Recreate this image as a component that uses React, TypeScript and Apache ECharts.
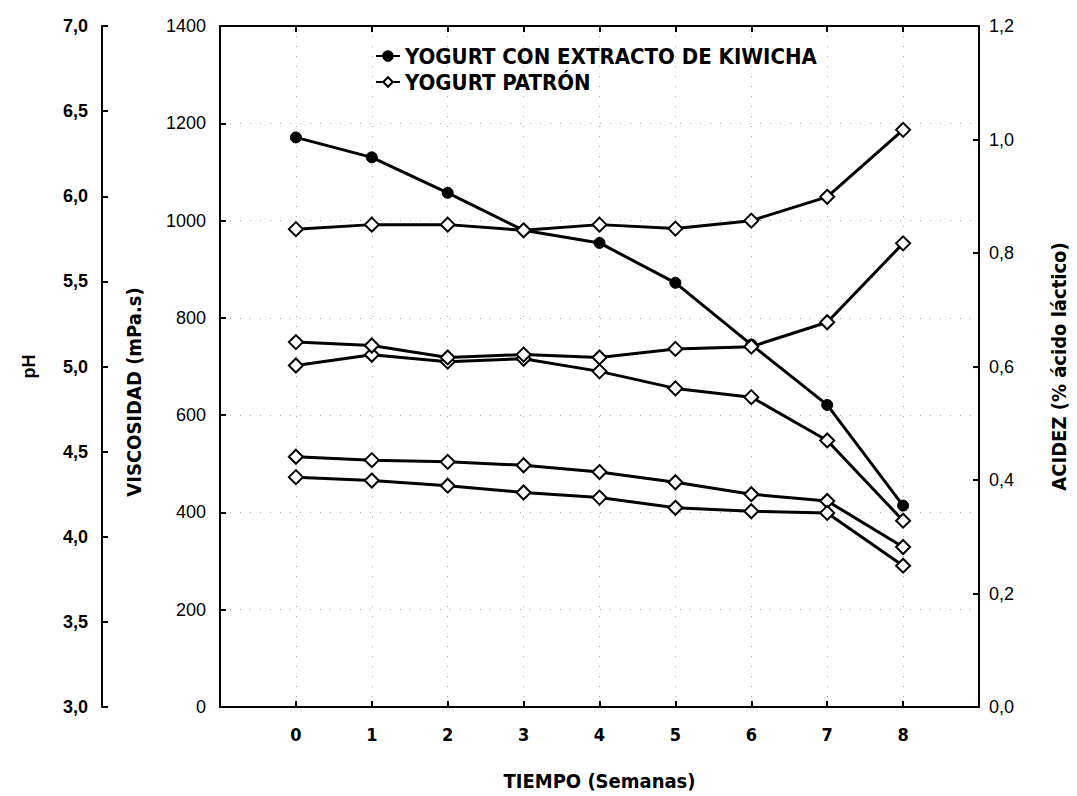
import React, { useEffect, useRef } from "react";
import * as echarts from "echarts";

const weeks = [0, 1, 2, 3, 4, 5, 6, 7, 8];
const xTickLabels = ["0", "1", "2", "3", "4", "5", "6", "7", "8"];
const viscKiwicha = [1171, 1130, 1057, 980, 954, 872, 745, 621, 414];
const viscPatron = [702, 724, 710, 716, 690, 655, 637, 548, 383];
const phKiwicha = [4.47, 4.45, 4.44, 4.42, 4.38, 4.32, 4.25, 4.21, 3.94];
const phPatron = [4.35, 4.33, 4.3, 4.26, 4.23, 4.17, 4.15, 4.14, 3.83];
const acidPatron = [0.842, 0.85, 0.85, 0.84, 0.85, 0.843, 0.857, 0.899, 1.017];
const acidKiwicha = [0.643, 0.637, 0.616, 0.621, 0.616, 0.631, 0.635, 0.678, 0.817];

const KIWICHA = "YOGURT CON EXTRACTO DE KIWICHA";
const PATRON = "YOGURT PATRÓN";

const FONT = "'Liberation Sans', Arial, sans-serif";
const NARROW = "'Liberation Sans Narrow', 'DejaVu Sans Condensed', 'Liberation Sans', sans-serif";

const pairs = (arr: number[]) => weeks.map((w, i) => [w, arr[i]]);

const filledStyle = {
  symbol: "circle",
  symbolSize: 11,
  itemStyle: { color: "#000", borderColor: "#000", borderWidth: 1 },
};
const openStyle = {
  symbol: "diamond",
  symbolSize: 14,
  itemStyle: { color: "#fff", borderColor: "#000", borderWidth: 2 },
};

export default function App() {
  const ref = useRef<HTMLDivElement>(null);
  useEffect(() => {
    document.body.style.margin = "0";
    const chart = echarts.init(ref.current!, null, { renderer: "svg" });
    const comma = (d: number) => (v: number) => v.toFixed(d).replace(".", ",");
    const lineSeries = (name: string, data: number[], yIdx: number, style: any) => ({
      type: "line",
      name,
      yAxisIndex: yIdx,
      data: pairs(data),
      lineStyle: { color: "#000", width: 3 },
      showAllSymbol: true,
      ...style,
    });
    const dotted = { show: true, lineStyle: { color: "#aaa", type: [1, 9], width: 1 } };
    const axisLine = { show: true, onZero: false, lineStyle: { color: "#000", width: 2 } };
    const tick = { show: true, inside: true, length: 6, lineStyle: { color: "#000", width: 2 } };
    chart.setOption({
      animation: false,
      backgroundColor: "#fff",
      grid: { left: 220, right: 85, top: 26, bottom: 80 },
      legend: {
        data: [KIWICHA, PATRON],
        orient: "vertical",
        left: 370,
        top: 40,
        itemGap: 4,
        itemWidth: 24,
        itemHeight: 12,
        textStyle: { fontFamily: NARROW, fontWeight: "bold", fontSize: 22, color: "#000" },
      },
      graphic: [
        {
          type: "text",
          x: 134,
          y: 392,
          rotation: Math.PI / 2,
          style: {
            text: "VISCOSIDAD (mPa.s)",
            fontFamily: NARROW,
            fontWeight: "bold",
            fontSize: 20,
            fill: "#000",
            align: "center",
            verticalAlign: "middle",
          },
        },
      ],
      xAxis: [
        {
          type: "value",
          min: -1,
          max: 9,
          interval: 1,
          name: "TIEMPO (Semanas)",
          nameLocation: "middle",
          nameGap: 64,
          nameTextStyle: { fontFamily: NARROW, fontWeight: "bold", fontSize: 20, color: "#000" },
          axisLine,
          axisTick: tick,
          axisLabel: {
            margin: 18,
            fontFamily: NARROW,
            fontWeight: "bold",
            fontSize: 18,
            color: "#000",
            formatter: (v: number) => (v >= 0 && v <= 8 ? xTickLabels[v] : ""),
          },
          splitLine: dotted,
        },
        {
          type: "value",
          position: "top",
          min: -1,
          max: 9,
          interval: 1,
          axisLine,
          axisTick: tick,
          axisLabel: { show: false },
          splitLine: { show: false },
        },
      ],
      yAxis: [
        {
          type: "value",
          position: "left",
          min: 0,
          max: 1400,
          interval: 200,
          axisLine,
          axisTick: tick,
          axisLabel: { margin: 14, fontFamily: FONT, fontSize: 18, color: "#000", formatter: (v: number) => String(v) },
          splitLine: dotted,
        },
        {
          type: "value",
          position: "left",
          offset: 118,
          min: 3,
          max: 7,
          interval: 0.5,
          name: "pH",
          nameLocation: "middle",
          nameGap: 64,
          nameRotate: 90,
          nameTextStyle: { fontFamily: FONT, fontWeight: "bold", fontSize: 18, color: "#000" },
          axisLine,
          axisTick: tick,
          axisLabel: { margin: 14, fontFamily: FONT, fontWeight: "bold", fontSize: 18, color: "#000", formatter: comma(1) },
          splitLine: { show: false },
        },
        {
          type: "value",
          position: "right",
          min: 0,
          max: 1.2,
          interval: 0.2,
          name: "ACIDEZ (% ácido láctico)",
          nameLocation: "middle",
          nameGap: 70,
          nameRotate: 90,
          nameTextStyle: { fontFamily: NARROW, fontWeight: "bold", fontSize: 20, color: "#000" },
          axisLine,
          axisTick: tick,
          axisLabel: { margin: 10, fontFamily: FONT, fontSize: 18, color: "#000", formatter: comma(1) },
          splitLine: { show: false },
        },
      ],
      series: [
        lineSeries(KIWICHA, viscKiwicha, 0, filledStyle),
        lineSeries(PATRON, viscPatron, 0, openStyle),
        lineSeries(KIWICHA, phKiwicha, 1, openStyle),
        lineSeries(PATRON, phPatron, 1, openStyle),
        lineSeries(PATRON, acidPatron, 2, openStyle),
        lineSeries(KIWICHA, acidKiwicha, 2, openStyle),
      ],
    });
    return () => chart.dispose();
  }, []);
  return <div ref={ref} style={{ width: 1077, height: 796 }} />;
}
